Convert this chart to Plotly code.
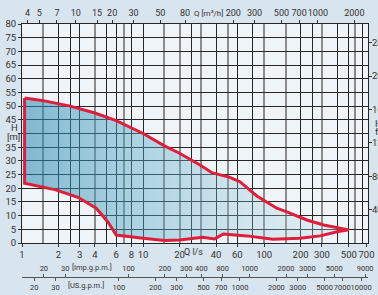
import math
import plotly.graph_objects as go

# ---- data ----
# upper boundary of the pump range: flow Q [l/s], head H [m]
q_upper = [1.05, 1.5, 2.5, 4, 6, 10, 15, 20, 30, 37, 52, 63, 87, 127, 154, 225, 310, 500]
h_upper = [53, 52, 50, 47.5, 44.7, 40, 35.5, 32.8, 28.3, 25.7, 24, 22.4, 17.2, 12.7, 11.4, 8.4, 6.6, 4.8]
# lower boundary
q_lower = [1.05, 1.9, 2.9, 4.1, 5.1, 5.6, 6.0, 9.6, 15, 20, 31, 39, 46, 72, 118, 197, 290, 400, 500]
h_lower = [21.8, 19.4, 16.7, 12.7, 7.8, 5.0, 2.9, 1.8, 0.9, 1.1, 2.1, 1.5, 3.3, 2.6, 1.35, 1.7, 2.6, 4.1, 4.8]

# tick labels
ls_ticks = [1, 2, 3, 4, 6, 8, 10, 20, 40, 60, 100, 200, 300, 500, 700]
m3h_ticks = [4, 5, 7, 10, 15, 20, 30, 50, 80, 200, 300, 500, 700, 1000, 2000]
imp_ticks = [20, 30, 100, 200, 300, 400, 600, 1000, 2000, 3000, 5000, 9000]
imp_text = ["20", "30", "100", "200", "300", "400", "800", "1000", "2000", "3000", "5000", "9000"]
us_ticks = [20, 30, 100, 200, 300, 500, 700, 1000, 2000, 3000, 5000, 7000, 10000]
h_ticks_m = list(range(0, 81, 5))
h_text_m = ["" if v == 40 else str(v) for v in h_ticks_m]
h_ticks_ft = [40, 80, 120, 160, 200, 240]
grid_dark = [2, 2.5, 3, 5, 6, 8, 10, 25, 40, 60, 80, 200, 250, 400, 500, 650]
grid_gray = [1.5, 4, 7, 15, 20, 30, 50, 100, 150, 300, 560]

# unit conversions
M3H_PER_LS = 3.6
IMP_PER_LS = 13.198
US_PER_LS = 15.850
FT_PER_M = 3.2808
Q_MIN, Q_MAX = 1.0, 720.0
H_MAX = 80

FONT = "Roboto"
TXT = "#333333"
DARK = "#262626"
GRAY = "#8c8c8c"
RED = "#e01e3c"
BG = "#d8e4ee"


def lrange(f):
    return [math.log10(Q_MIN * f), math.log10(Q_MAX * f)]


xs = q_upper + q_lower[::-1] + [q_upper[0]]
ys = h_upper + h_lower[::-1] + [h_upper[0]]

fig = go.Figure()
fig.add_trace(go.Scatter(
    x=xs, y=ys, mode="lines", fill="toself",
    fillgradient=dict(type="horizontal", colorscale=[
        [0.0, "rgba(40,135,175,0.55)"],
        [0.35, "rgba(80,165,195,0.42)"],
        [0.72, "rgba(150,198,215,0.3)"],
        [1.0, "rgba(200,225,235,0.3)"],
    ]),
    line=dict(color=RED, width=3), hoverinfo="skip", showlegend=False,
))
# helper (empty) traces so every axis is built
for xa, ya in [("x2", "y"), ("x3", "y"), ("x4", "y"), ("x5", "y"), ("x", "y2")]:
    fig.add_trace(go.Scatter(x=[], y=[], xaxis=xa, yaxis=ya, showlegend=False, hoverinfo="skip"))

d0 = (285 - 243) / 261
pline = (285 - 277) / 261

tickfont = dict(family=FONT, size=9.5, color=TXT)
smallfont = dict(family=FONT, size=7.5, color=TXT)
common = dict(automargin=False, tickangle=0, zeroline=False)

fig.update_layout(
    width=378, height=295, template="none",
    margin=dict(l=22, r=10, t=24, b=10, pad=0, autoexpand=False),
    paper_bgcolor=BG, plot_bgcolor="#eef4f8",
    font=dict(family=FONT, size=9.5, color=TXT),
    showlegend=False,
    xaxis=dict(type="log", range=lrange(1), domain=[0, 1], anchor="y", side="bottom",
               tickmode="array", tickvals=ls_ticks, ticktext=[str(v) for v in ls_ticks],
               ticks="outside", ticklen=3, tickcolor=TXT, tickfont=tickfont,
               showgrid=False, showline=True, linecolor=DARK, linewidth=1, mirror=True, **common),
    xaxis2=dict(type="log", range=lrange(M3H_PER_LS), overlaying="x", anchor="y", side="top",
                tickmode="array", tickvals=m3h_ticks, ticktext=[str(v) for v in m3h_ticks],
                ticks="outside", ticklen=3, tickcolor=TXT, tickfont=dict(family=FONT, size=9, color=TXT),
                showgrid=False, showline=False, **common),
    xaxis3=dict(type="log", range=lrange(IMP_PER_LS), overlaying="x", anchor="free", position=pline,
                side="top", tickmode="array", tickvals=imp_ticks, ticktext=imp_text,
                ticks="outside", ticklen=3, tickcolor="#555", tickfont=smallfont,
                showgrid=False, showline=True, linecolor="#555", linewidth=1, **common),
    xaxis4=dict(type="log", range=lrange(US_PER_LS), overlaying="x", anchor="free", position=pline,
                side="bottom", tickmode="array", tickvals=us_ticks, ticktext=[str(v) for v in us_ticks],
                ticks="outside", ticklen=3, tickcolor="#555", tickfont=smallfont,
                showgrid=False, showline=False, **common),
    xaxis5=dict(type="log", range=lrange(1), overlaying="x", anchor="y", side="bottom",
                tickmode="array", tickvals=grid_dark, showticklabels=False, ticks="",
                showgrid=True, gridcolor=DARK, gridwidth=1.4, showline=False,
                minor=dict(tickmode="array", tickvals=grid_gray, showgrid=True, gridcolor=GRAY,
                           gridwidth=1.6, ticks=""), **common),
    yaxis=dict(range=[0, H_MAX], domain=[d0, 1], anchor="x", side="left",
               tickmode="array", tickvals=h_ticks_m, ticktext=h_text_m,
               ticks="outside", ticklen=3, tickcolor=TXT, tickfont=tickfont,
               showgrid=True, gridcolor=DARK, gridwidth=1,
               showline=True, linecolor=DARK, linewidth=1, mirror=True, **common),
    yaxis2=dict(range=[0, H_MAX * FT_PER_M], overlaying="y", anchor="x", side="right",
                tickmode="array", tickvals=h_ticks_ft, ticktext=[str(v) for v in h_ticks_ft],
                ticks="outside", ticklen=3, tickcolor=TXT, tickfont=tickfont, ticklabelstandoff=-2,
                showgrid=False, showline=False, **common),
)

lab = dict(family=FONT, size=9.5, color=TXT)
ann = [
    dict(text="H", x=(14 - 22) / 346, y=(243 - 127) / 2.7375, xref="paper", yref="y", font=lab),
    dict(text="[m]", x=(13.5 - 22) / 346, y=(243 - 136.5) / 2.7375, xref="paper", yref="y", font=lab),
    dict(text="H", x=(372.5 - 22) / 346, y=(243 - 123) / 2.7375, xref="paper", yref="y", xanchor="left", font=lab),
    dict(text="ft", x=(372.5 - 22) / 346, y=(243 - 131) / 2.7375, xref="paper", yref="y", xanchor="left", font=lab),
    dict(text="Q [m³/h]", x=(208 - 22) / 346, y=(285 - 14) / 261, xref="paper", yref="paper",
         font=dict(family=FONT, size=8, color=TXT)),
    dict(text="Q l/s", x=(193.5 - 22) / 346, y=(285 - 252) / 261, xref="paper", yref="paper",
         font=dict(family=FONT, size=9, color=TXT)),
    dict(text="[Imp.g.p.m.]", x=(92 - 22) / 346, y=(285 - 267) / 261, xref="paper", yref="paper",
         font=smallfont),
    dict(text="[US.g.p.m.]", x=(86 - 22) / 346, y=(285 - 285) / 261, xref="paper", yref="paper",
         font=smallfont),
]
for a in ann:
    a.setdefault("xanchor", "center")
    a["yanchor"] = "middle"
    a["showarrow"] = False
fig.update_layout(annotations=ann)

fig.write_html(
    "out.html",
    config={"displayModeBar": False},
    post_script="document.documentElement.style.margin='0';document.body.style.margin='0';"
                "document.body.style.padding='0';document.body.style.background='" + BG + "';",
)
